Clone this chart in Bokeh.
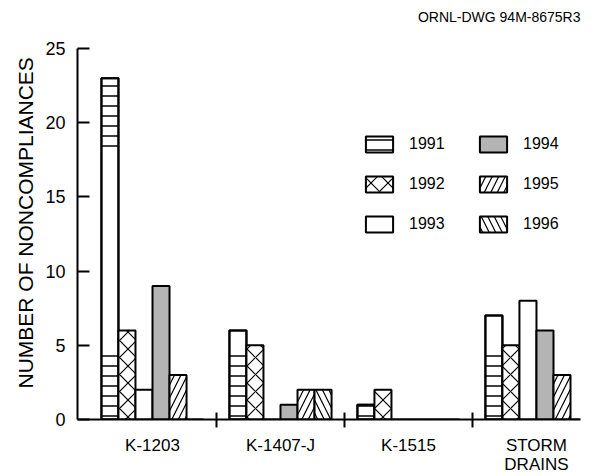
from bokeh.plotting import figure
from bokeh.models import Range1d, FixedTicker, Legend, LegendItem, Title
from bokeh.embed import file_html
from bokeh.resources import INLINE

# Noncompliances per outfall group and year
sites = ["K-1203", "K-1407-J", "K-1515", "STORM\nDRAINS"]
years = ["1991", "1992", "1993", "1994", "1995", "1996"]
n1991 = [23, 6, 1, 7]
n1992 = [6, 5, 2, 5]
n1993 = [2, 0, 0, 8]
n1994 = [9, 1, 0, 6]
n1995 = [3, 2, 0, 3]
n1996 = [0, 2, 0, 0]
y_ticks = [0, 5, 10, 15, 20, 25]

counts = {"1991": n1991, "1992": n1992, "1993": n1993,
          "1994": n1994, "1995": n1995, "1996": n1996}

# fill / hatch style of each year
styles = {
    "1991": dict(fill_color="white", hatch_pattern="horizontal_line", hatch_scale=10),
    "1992": dict(fill_color="white", hatch_pattern="diagonal_cross", hatch_scale=17),
    "1993": dict(fill_color="white", hatch_pattern=None, hatch_scale=12),
    "1994": dict(fill_color="#b4b4b4", hatch_pattern=None, hatch_scale=12),
    "1995": dict(fill_color="white", hatch_pattern="right_diagonal_line", hatch_scale=13),
    "1996": dict(fill_color="white", hatch_pattern="left_diagonal_line", hatch_scale=13),
}
# the 1991 ruling is only printed in these value bands
RULED_BANDS = [(0, 4.6), (18, 25)]

FONT = "Liberation Sans"
BAR_W = 0.133

p = figure(width=593, height=476, output_backend="svg", toolbar_location=None,
           x_range=Range1d(-0.086, 3.844), y_range=Range1d(0, 25),
           min_border_left=77, min_border_right=13, min_border_top=48,
           min_border_bottom=57)
p.background_fill_color = "white"
p.border_fill_color = "white"
p.outline_line_color = None
p.xgrid.visible = False
p.ygrid.visible = False

legend_items = []
for j, yr in enumerate(years):
    xs = [i + 0.5 + (j - 2.5) * BAR_W for i in range(len(sites))]
    vals = counts[yr]
    st = styles[yr]
    if yr == "1991":
        base = p.vbar(x=xs, top=vals, width=BAR_W, fill_color="white",
                      line_color="black", line_width=2)
        rends = [base]
        for lo, hi in RULED_BANDS:
            bx = [x for x, v in zip(xs, vals) if v > lo]
            bt = [min(v, hi) for v in vals if v > lo]
            r = p.vbar(x=bx, bottom=lo, top=bt, width=BAR_W, fill_alpha=0,
                       hatch_pattern="horizontal_line", hatch_scale=st["hatch_scale"],
                       hatch_weight=1.5, hatch_color="black", line_color=None)
            if lo == 0:
                rends.append(r)
        p.vbar(x=xs, top=vals, width=BAR_W, fill_alpha=0,
               line_color="black", line_width=2)
    else:
        kw = dict(fill_color=st["fill_color"], line_color="black", line_width=2)
        if st["hatch_pattern"]:
            kw.update(hatch_pattern=st["hatch_pattern"], hatch_scale=st["hatch_scale"],
                      hatch_weight=1.2, hatch_color="black")
        r = p.vbar(x=xs, top=vals, width=BAR_W, **kw)
        rends = [r]
    legend_items.append(LegendItem(label=yr, renderers=rends))

# two legend columns: 1991-1993 and 1994-1996
legend_style = dict(glyph_width=34, glyph_height=20, label_standoff=13,
                    spacing=20, padding=0, margin=0, border_line_color=None,
                    background_fill_alpha=0, label_text_font=FONT,
                    label_text_font_size="16px", label_text_color="black")
p.add_layout(Legend(items=legend_items[:3], location=(285, 185), **legend_style))
p.add_layout(Legend(items=legend_items[3:], location=(399, 185), **legend_style))

# y axis: ticks pointing inwards
ya = p.yaxis[0]
ya.ticker = FixedTicker(ticks=y_ticks)
ya.axis_line_width = 2
ya.major_tick_line_width = 2
ya.major_tick_in = 12
ya.major_tick_out = 0
ya.minor_tick_line_color = None
ya.major_label_standoff = 12
ya.major_label_text_font = FONT
ya.major_label_text_font_size = "18px"
ya.major_label_text_color = "black"

# x axis: group names centred, separator ticks between groups
xa = p.xaxis[0]
xa.ticker = FixedTicker(ticks=[i + 0.5 for i in range(len(sites))],
                        minor_ticks=[i for i in range(1, len(sites))])
xa.major_label_overrides = {i + 0.5: s for i, s in enumerate(sites)}
xa.axis_line_width = 2
xa.major_tick_in = 0
xa.major_tick_out = 0
xa.minor_tick_in = 7
xa.minor_tick_out = 8
xa.minor_tick_line_width = 2
xa.minor_tick_line_color = "black"
xa.major_label_standoff = 8
xa.major_label_text_font = FONT
xa.major_label_text_font_size = "17px"
xa.major_label_text_line_height = 1.0
xa.major_label_text_color = "black"

# vertical axis title, anchored from the bottom of the frame
p.add_layout(Title(text="NUMBER OF NONCOMPLIANCES", align="left", offset=31,
                   text_font=FONT, text_font_size="21px", text_font_style="normal",
                   text_color="black", standoff=12), "left")

# empty band between the frame and the drawing number
p.add_layout(Title(text=" ", text_font_size="1px", standoff=14), "above")
# drawing number, top right
p.add_layout(Title(text="ORNL-DWG 94M-8675R3", align="right", vertical_align="top",
                   text_font=FONT, text_font_size="14px", text_font_style="normal",
                   text_color="black", standoff=10), "above")

open("out.html", "w").write(file_html(p, INLINE))
